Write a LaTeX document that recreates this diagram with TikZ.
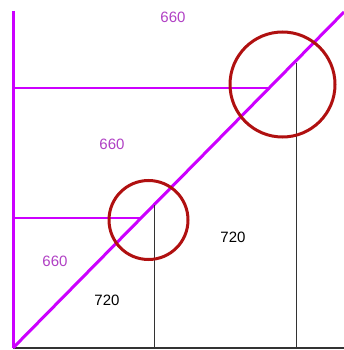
\documentclass[tikz,border=0pt]{standalone}
\usepackage{fontspec}
\setmainfont{Liberation Sans}
\definecolor{lilac}{RGB}{204,0,255}
\definecolor{ringred}{RGB}{176,16,16}
\definecolor{numpink}{RGB}{176,64,196}
\tikzset{pinknum/.style={text=numpink,font=\fontsize{15}{17}\selectfont,inner sep=0pt},
blacknum/.style={text=black,font=\fontsize{15}{17}\selectfont,inner sep=0pt}}

\begin{document}
\begin{tikzpicture}[x=1pt,y=-1pt]
\useasboundingbox (0,0) rectangle (344,350);
%Axes and diagonal
\coordinate (O) at (13,348); \coordinate (Otop) at (13,11); \coordinate (Oright) at (344,348); \coordinate (Dend) at (344,12);
\draw [black!80,line width=1.3pt] (O)--(Oright);
\draw [lilac,line width=3pt] (Otop)--(O); \draw [lilac,line width=3pt] (O)--(Dend);

%Small circle
\coordinate (h1) at (13,218); \coordinate (d1) at (140,218); \coordinate (v1) at (154,205); \coordinate (b1) at (154,348);
\draw [lilac,line width=1.2pt] (h1)--(d1); \draw [black!80,line width=1pt] (v1)--(b1);
\coordinate (c1) at (148.5,220); \draw [ringred,line width=3pt] (c1) circle [radius=39.5];

%Large circle
\coordinate (h2) at (13,88); \coordinate (d2) at (270,88); \coordinate (v2) at (296,63); \coordinate (b2) at (296,348);
\draw [lilac,line width=1.2pt] (h2)--(d2); \draw [black!80,line width=1pt] (v2)--(b2);
\coordinate (c2) at (282.5,84.5); \draw [ringred,line width=3pt] (c2) circle [radius=52.5];

\node [pinknum] (n1) at (173,17){660};
\node [pinknum] (n2) at (112,144){660};
\node [pinknum] (n3) at (55,261){660};
\node [blacknum] (m1) at (233,237){720};
\node [blacknum] (m2) at (107,300){720};

\end{tikzpicture}
\end{document}
